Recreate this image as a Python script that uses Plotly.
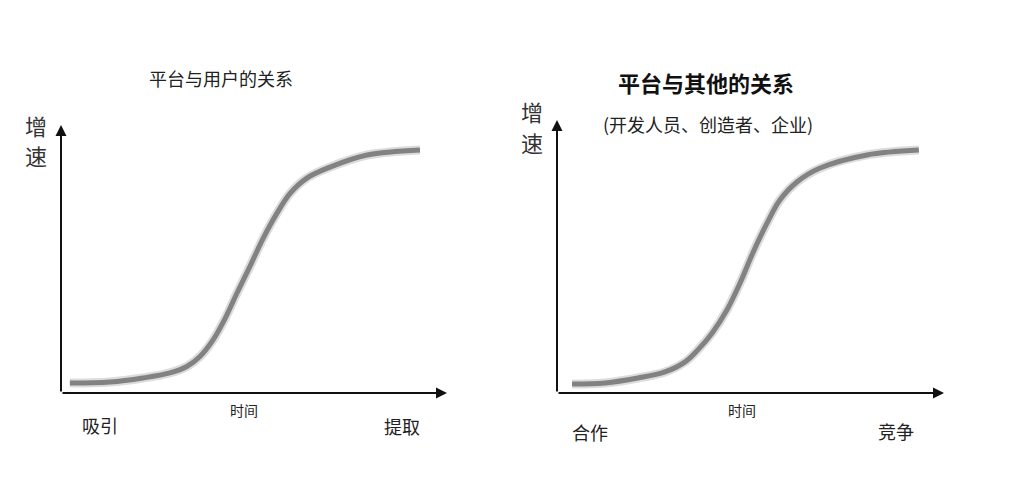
"""
Two S-curves: platform growth vs. users and vs. others.
"""

import plotly.graph_objects as go

# curve samples, in axis units (0-100 from origin to arrow tip)
user_time = [2.3, 12.7, 21.2, 28.2, 32.6, 36.0, 39.4, 42.3, 45.6, 49.0, 52.3, 56.0, 59.3, 63.7, 69.7, 79.3, 93.0]
user_growth = [3.7, 4.1, 5.6, 7.5, 9.9, 13.6, 19.8, 27.2, 37.3, 47.4, 57.5, 67.2, 74.4, 80.2, 84.3, 88.8, 90.7]

other_time = [3.9, 12.4, 20.9, 27.9, 33.1, 36.4, 40.1, 43.9, 47.3, 50.6, 54.3, 57.6, 62.0, 68.0, 80.1, 93.5]
other_growth = [3.3, 3.7, 5.5, 7.7, 11.4, 15.8, 22.0, 30.4, 40.3, 51.3, 62.3, 70.7, 77.3, 82.4, 87.2, 89.0]

titles = ["平台与用户的关系", "平台与其他的关系"]
subtitle = "(开发人员、创造者、企业)"
y_label = ["增", "速"]
x_label = "时间"
start_labels = ["吸引", "合作"]
end_labels = ["提取", "竞争"]

# page body has an 8px margin, so the figure is sized to fit the window
OFF = 8
W, H = 1024 - OFF, 494 - OFF
FONT = "Noto Sans CJK SC"
PAD = 5


def px(x):
    return (x - OFF) / W


def py(y):
    return (H - (y - OFF)) / H


def domains(x0, x1, y0, y1):
    # window pixel positions of value 0 and 100 on each axis -> paper domains
    sx = (x1 - x0) / 100
    sy = (y0 - y1) / 100
    xd = [px(x0 - PAD * sx), px(x1 + PAD * sx)]
    yd = [py(y0 + PAD * sy), py(y1 - PAD * sy)]
    return xd, yd


fig = go.Figure()

panels = [
    ("x", "y", user_time, user_growth, (61, 447, 393, 125)),
    ("x2", "y2", other_time, other_growth, (557, 944, 393, 120)),
]

layout_axes = {}
for i, (xa, ya, xs, ys, box) in enumerate(panels):
    xd, yd = domains(*box)
    xkey = "xaxis" if i == 0 else "xaxis2"
    ykey = "yaxis" if i == 0 else "yaxis2"
    layout_axes[xkey] = dict(domain=xd, range=[-PAD, 100 + PAD], visible=False, anchor=ya)
    layout_axes[ykey] = dict(domain=yd, range=[-PAD, 100 + PAD], visible=False, anchor=xa)
    # soft halo then the curve itself
    fig.add_trace(go.Scatter(
        x=xs, y=ys, xaxis=xa, yaxis=ya, mode="lines",
        line=dict(color="rgba(140,140,140,0.3)", width=9, shape="spline"),
        hoverinfo="skip", showlegend=False,
    ))
    fig.add_trace(go.Scatter(
        x=xs, y=ys, xaxis=xa, yaxis=ya, mode="lines",
        line=dict(color="#828282", width=5, shape="spline"),
        showlegend=False,
    ))
    # axis arrows
    for tx, ty in [(100, 0), (0, 100)]:
        fig.add_annotation(
            x=tx, y=ty, ax=0, ay=0, xref=xa, yref=ya, axref=xa, ayref=ya,
            text="", showarrow=True, arrowhead=2, arrowsize=1.1,
            arrowwidth=2, arrowcolor="#111111", standoff=0, startstandoff=0,
        )

fig.update_layout(**layout_axes)


def label(text, x, y, size, color="#222222", bold=False):
    fig.add_annotation(
        x=px(x), y=py(y), xref="paper", yref="paper",
        text=f"<b>{text}</b>" if bold else text, showarrow=False,
        xanchor="center", yanchor="middle",
        font=dict(family=FONT, size=size, color=color),
    )


# left panel texts
label(titles[0], 221, 78, 18)
label(y_label[0], 36, 125, 22, "#333333")
label(y_label[1], 36, 155, 22, "#333333")
label(x_label, 244, 410, 14)
label(start_labels[0], 100, 425, 18)
label(end_labels[0], 402, 426, 18)

# right panel texts
label(titles[1], 706, 82, 22, "#111111", bold=True)
label(subtitle, 708, 124, 18)
label(y_label[0], 532, 111, 22, "#333333")
label(y_label[1], 532, 142, 22, "#333333")
label(x_label, 742, 410, 14)
label(start_labels[1], 590, 432, 18)
label(end_labels[1], 896, 431, 18)

fig.update_layout(
    width=W,
    height=H,
    margin=dict(l=0, r=0, t=0, b=0),
    paper_bgcolor="white",
    plot_bgcolor="white",
    font=dict(family=FONT),
)

fig.write_html("out.html")
